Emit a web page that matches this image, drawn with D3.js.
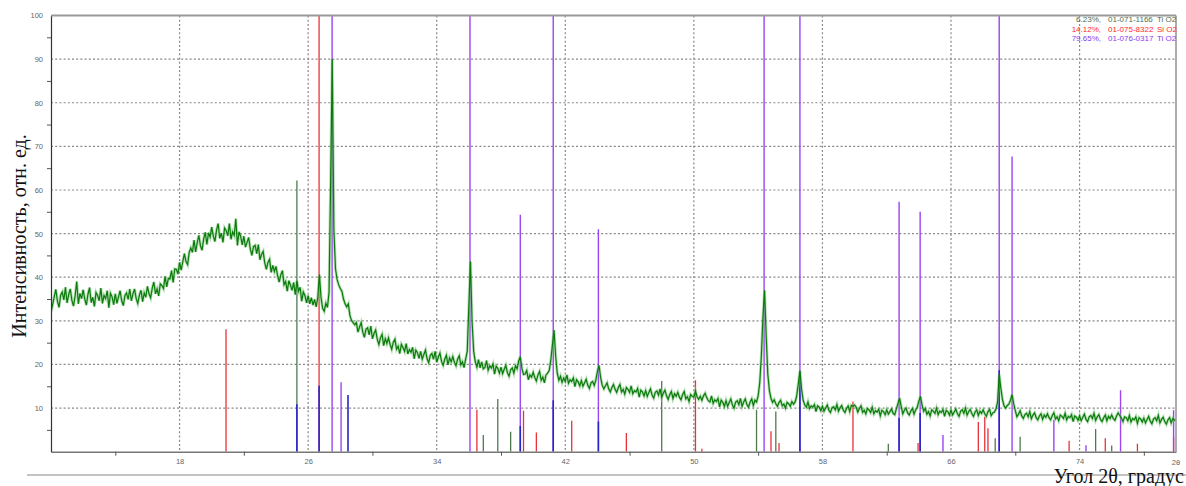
<!DOCTYPE html>
<html>
<head>
<meta charset="utf-8">
<script src="https://cdn.jsdelivr.net/npm/d3@7"></script>
<style>
  body { margin: 0; background: #fff; }
  svg { display: block; }
</style>
</head>
<body>
<div id="chart"></div>
<script>
// measured scan, 10.0 .. 80.0 deg, step 0.1
var scanStart = 10, scanStep = 0.1;
var scanCounts = [
  32.0,33.7,35.5,37.2,34.5,33.1,35.9,36.6,34.8,37.7,
  34.1,36.0,37.3,34.7,33.4,35.7,39.0,33.9,36.3,35.1,
  37.1,35.0,33.6,36.1,37.6,34.2,35.4,33.3,36.5,35.8,
  34.6,37.5,34.0,35.8,35.1,36.9,33.0,36.3,35.5,33.7,
  36.2,34.0,35.5,36.9,34.6,33.5,35.8,36.4,34.9,37.3,
  34.6,36.2,37.3,35.1,34.0,35.9,37.0,34.4,36.4,35.4,
  37.9,36.2,35.3,37.5,38.9,36.2,37.3,35.7,38.5,38.1,
  37.4,40.2,37.8,39.7,39.6,41.5,38.8,41.9,41.8,40.7,
  43.4,41.6,43.6,45.4,43.6,42.9,45.7,46.7,45.7,48.5,
  45.8,48.0,49.6,47.2,46.2,48.8,50.3,47.5,50.2,49.2,
  51.5,49.4,48.2,50.8,52.3,48.9,50.1,48.0,51.3,50.7,
  49.5,52.3,48.7,50.4,49.6,53.4,47.3,50.4,49.4,47.4,
  49.4,46.9,48.0,49.1,46.5,45.0,47.0,47.3,45.4,47.5,
  44.0,45.2,45.9,43.3,41.8,43.4,44.1,41.1,42.7,41.3,
  42.5,40.3,38.9,40.6,41.5,38.3,39.0,36.8,39.2,38.2,
  37.0,38.8,36.0,39.2,36.8,37.7,34.5,36.6,35.8,34.1,
  35.8,33.9,35.3,33.6,34.9,33.2,35.4,40.6,35.4,32.9,
  32.2,34.0,33.1,36.5,62.0,90.0,51.0,42.0,39.5,38.3,
  37.4,36.8,35.0,33.9,33.2,33.9,31.2,30.1,29.6,29.1,
  29.6,27.4,28.6,29.6,27.4,26.2,28.1,28.4,26.8,28.8,
  25.9,27.1,27.9,25.8,24.6,26.1,26.9,24.3,25.9,24.8,
  26.1,24.6,23.5,25.1,25.8,23.5,24.2,22.5,24.6,23.9,
  23.0,24.8,22.4,23.4,22.8,23.9,21.3,23.3,22.7,21.4,
  23.0,21.2,22.3,23.3,21.3,20.4,22.1,22.5,21.2,23.0,
  20.5,21.7,22.6,20.7,19.8,21.2,22.1,19.9,21.5,20.6,
  21.8,20.5,19.7,21.2,22.0,19.9,20.6,19.3,21.2,23.0,
  33.5,43.6,29.8,23.0,20.6,19.4,21.1,19.2,20.6,19.0,
  19.3,20.9,18.7,19.7,19.2,20.1,17.8,19.6,19.1,18.0,
  19.4,17.9,18.9,19.8,18.1,17.3,18.8,19.2,18.0,19.7,
  19.0,20.8,21.8,19.1,17.7,17.8,18.6,16.5,17.6,17.1,
  18.2,17.0,16.2,17.6,18.4,16.4,17.1,15.8,17.6,18.0,
  18.6,21.0,24.5,27.9,22.0,18.0,16.4,17.3,15.9,16.9,
  16.1,17.6,15.7,16.5,16.1,16.9,14.9,16.5,16.0,15.1,
  16.3,15.0,15.8,16.6,15.2,14.5,15.8,16.1,15.2,16.4,
  18.4,19.8,17.0,15.2,14.4,15.1,15.8,14.4,13.7,14.7,
  15.4,14.3,13.6,14.7,15.4,13.7,14.3,13.2,14.7,14.3,
  13.6,15.1,13.3,14.0,13.7,14.5,12.5,14.1,13.7,12.8,
  14.0,12.7,13.6,14.4,13.0,12.3,13.6,13.9,13.0,14.4,
  12.5,13.4,14.1,12.8,12.0,13.1,13.8,12.2,13.3,12.7,
  13.6,12.5,11.9,13.1,13.8,12.1,12.6,11.5,13.1,12.7,
  12.5,13.9,12.6,12.0,12.7,11.8,12.8,13.4,12.4,11.7,
  11.4,12.8,11.1,11.9,11.5,12.2,10.3,11.8,11.3,10.4,
  11.7,10.4,11.3,12.1,10.7,10.0,11.4,11.7,10.8,12.2,
  10.4,11.4,12.1,10.8,10.2,11.4,12.1,10.6,11.8,11.4,
  12.8,15.8,22.0,31.0,37.0,26.5,17.8,14.0,12.2,11.3,
  11.9,11.0,10.4,11.3,11.8,10.5,10.9,10.0,11.3,11.0,
  10.4,11.5,10.9,11.4,12.8,15.6,18.6,14.4,11.8,10.7,
  10.2,11.4,9.9,10.5,10.2,10.8,9.2,10.5,10.2,9.4,
  10.4,9.3,10.0,10.7,9.5,9.0,10.1,10.3,9.6,10.8,
  9.3,10.1,10.6,9.5,9.0,9.9,10.5,9.2,10.6,10.4,
  10.7,10.2,9.1,9.9,10.5,9.0,9.5,8.7,9.9,9.6,
  9.0,10.2,8.7,9.4,9.1,9.7,8.2,9.5,9.2,8.5,
  9.6,8.6,9.2,9.8,8.8,8.5,9.8,11.0,12.3,10.4,
  8.7,9.5,10.0,8.9,8.4,9.3,9.9,8.6,9.6,10.2,
  11.6,12.7,10.7,9.3,9.9,8.6,9.2,8.2,9.6,9.3,
  8.8,10.0,8.5,9.3,9.0,9.7,8.1,9.5,9.2,8.4,
  9.5,8.4,9.1,9.8,8.7,8.1,9.3,9.6,8.8,10.0,
  8.4,9.2,9.7,8.7,8.1,9.1,9.6,8.3,9.3,8.8,
  9.6,8.7,8.1,9.2,9.7,8.3,8.9,9.1,9.8,11.4,
  17.8,14.6,12.0,10.5,10.0,10.6,10.9,11.8,13.1,11.0,
  9.4,8.0,8.6,9.4,8.2,7.6,8.5,8.8,8.0,9.2,
  7.6,8.4,8.9,7.8,7.3,8.2,8.7,7.4,8.4,7.9,
  8.7,7.8,7.3,8.3,8.9,7.5,8.0,7.1,8.4,8.1,
  7.6,8.8,7.3,8.1,7.8,8.5,6.9,8.2,7.9,7.2,
  8.2,7.1,7.9,8.6,7.4,6.9,8.0,8.3,7.6,8.8,
  7.2,8.0,8.5,7.4,6.9,7.8,8.4,7.1,8.1,7.6,
  8.4,7.6,7.2,8.2,8.9,8.3,7.7,6.9,8.0,7.8,
  7.1,8.3,6.8,7.6,7.3,8.0,6.5,7.8,7.5,6.8,
  7.7,6.6,7.4,8.1,7.0,6.4,7.5,7.8,7.1,8.3,
  6.6,7.4,7.9,6.9,6.3,7.3,7.8,6.6,7.6,7.2,
  7.4
];

// reference patterns (stick positions, relative intensity)
var greenAngles = [25.3, 36.9, 37.8, 38.6, 48.0, 53.9, 55.1, 62.1, 68.75, 70.3, 75.0, 76.0];
var greenInts   = [62.2, 3.8, 12.1, 4.6, 16.2, 9.6, 9.2, 1.8, 3.1, 3.4, 5.2, 1.4];

var redAngles = [20.89, 26.68, 36.5, 39.4, 40.2, 42.4, 45.8, 50.1, 50.5, 54.8, 55.3, 59.9, 63.95, 67.7, 68.1, 68.3, 73.35, 75.6, 77.6, 79.85];
var redInts   = [28.1, 100, 9.6, 9.4, 4.4, 7.1, 4.3, 16.4, 0.7, 4.7, 2.0, 11.5, 2.0, 6.8, 8.0, 5.4, 2.5, 3.1, 1.8, 3.4];

var violetAngles = [27.49, 28.05, 36.07, 39.2, 41.25, 44.06, 54.37, 56.6, 62.77, 64.08, 65.5, 69.0, 69.8, 72.4, 74.4, 76.55, 79.85];
var violetInts   = [100, 15.9, 100, 54.3, 100, 51.0, 100, 100, 57.3, 55.0, 3.8, 100, 67.7, 7.3, 1.5, 14.1, 9.5];

var blueAngles = [25.3, 26.68, 28.48, 39.2, 41.25, 44.06, 56.6, 62.77, 64.08, 69.0];
var blueInts   = [10.9, 15.1, 13.0, 5.9, 11.8, 6.9, 18.3, 7.7, 8.9, 18.7];

var legendPct   = ['6.23%,', '14.12%,', '79.65%,'];
var legendCode  = ['01-071-1166', '01-075-8322', '01-076-0317'];
var legendPhase = ['Ti O2', 'Si O2', 'Ti O2'];

var xLabelTicks = [18, 26, 34, 42, 50, 58, 66, 74];
var xMinorTicks = [14, 22, 30, 38, 46, 54, 62, 70, 78];
var yLabelTicks = [10, 20, 30, 40, 50, 60, 70, 80, 90, 100];
var yMinorTicks = [5, 15, 25, 35, 45, 55, 65, 75, 85, 95];

var width = 1186, height = 486;
var margin = {top: 15.5, right: 10, bottom: 34.3, left: 51};

var svg = d3.select('#chart')
    .append('svg')
    .attr('width', width)
    .attr('height', height);

var x = d3.scaleLinear()
    .domain([10, 80])
    .range([margin.left, width - margin.right]);

var y = d3.scaleLinear()
    .domain([0, 100])
    .range([height - margin.bottom, margin.top]);

svg.append('defs').append('clipPath')
    .attr('id', 'plot-clip')
    .append('rect')
    .attr('x', x(10))
    .attr('y', y(100))
    .attr('width', x(80) - x(10))
    .attr('height', y(0) - y(100));

//grid
svg.append('g')
    .selectAll('line')
    .data(yLabelTicks.slice(0, -1))
    .join('line')
    .attr('x1', x(10))
    .attr('x2', x(80))
    .attr('y1', d => y(d))
    .attr('y2', d => y(d))
    .attr('stroke', '#888')
    .attr('stroke-width', 1.2)
    .attr('stroke-dasharray', '2,2.2');

svg.append('g')
    .selectAll('line')
    .data(xLabelTicks)
    .join('line')
    .attr('x1', d => x(d))
    .attr('x2', d => x(d))
    .attr('y1', y(100))
    .attr('y2', y(0))
    .attr('stroke', '#888')
    .attr('stroke-width', 1.2)
    .attr('stroke-dasharray', '2,2.2');

//sticks
function drawSticks(angles, ints, color, w) {
    svg.append('g')
        .attr('clip-path', 'url(#plot-clip)')
        .selectAll('line')
        .data(angles.map((a, i) => ({angle: a, val: ints[i]})))
        .join('line')
        .attr('x1', d => x(d.angle))
        .attr('x2', d => x(d.angle))
        .attr('y1', y(0))
        .attr('y2', d => y(d.val))
        .attr('stroke', color)
        .attr('stroke-width', w);
}

drawSticks(greenAngles, greenInts, '#4f7a4f', 1.3);
drawSticks(redAngles, redInts, '#e8323a', 1.3);
drawSticks(violetAngles, violetInts, '#9b45f2', 1.4);
drawSticks(blueAngles, blueInts, '#2626c8', 1.6);

//measured pattern
var scan = scanCounts.map((c, i) => ({angle: scanStart + i * scanStep, val: c}));

var line = d3.line()
    .x(d => x(d.angle))
    .y(d => y(d.val));

svg.append('path')
    .datum(scan)
    .attr('clip-path', 'url(#plot-clip)')
    .attr('fill', 'none')
    .attr('stroke', '#6fbf6f')
    .attr('stroke-width', 3)
    .attr('stroke-opacity', 0.5)
    .attr('d', line);

svg.append('path')
    .datum(scan)
    .attr('clip-path', 'url(#plot-clip)')
    .attr('fill', 'none')
    .attr('stroke', '#0a7a0a')
    .attr('stroke-width', 1.2)
    .attr('d', line);

//axes
var axisFont = 'Liberation Sans, Arial, sans-serif';

var xAxis = svg.append('g')
    .attr('transform', `translate(0,${y(0)})`)
    .call(d3.axisBottom(x).tickValues(xLabelTicks).tickSize(0).tickPadding(7));

svg.append('g')
    .attr('transform', `translate(0,${y(0)})`)
    .call(d3.axisBottom(x).tickValues(xMinorTicks).tickSize(4).tickFormat(''))
    .call(g => g.select('.domain').remove());

xAxis.select('.domain').attr('stroke', '#777').attr('stroke-width', 1.6);

svg.append('text')
    .attr('x', x(80))
    .attr('y', y(0) + 13)
    .attr('text-anchor', 'middle')
    .text('2θ');

var yAxis = svg.append('g')
    .attr('transform', `translate(${x(10)},0)`)
    .call(d3.axisLeft(y).tickValues(yLabelTicks).tickSize(0).tickPadding(8));

svg.append('g')
    .attr('transform', `translate(${x(10)},0)`)
    .call(d3.axisLeft(y).tickValues(yMinorTicks).tickSize(4).tickFormat(''))
    .call(g => g.select('.domain').remove());

yAxis.select('.domain').attr('stroke', '#333').attr('stroke-width', 1.2);

svg.selectAll('.tick line').attr('stroke', '#555');
svg.selectAll('.tick text, text')
    .attr('fill', '#666')
    .style('font-family', axisFont)
    .style('font-size', '7.5px');

//frame
svg.append('line')
    .attr('x1', x(10)).attr('x2', x(80))
    .attr('y1', y(100)).attr('y2', y(100))
    .attr('stroke', '#999').attr('stroke-width', 2.2);

svg.append('line')
    .attr('x1', x(80)).attr('x2', x(80))
    .attr('y1', y(100)).attr('y2', y(0))
    .attr('stroke', '#999').attr('stroke-width', 1.6);

//legend
var legendColors = ['#4f6f4f', '#ff2a2a', '#8a3cf0'];
var legend = svg.append('g')
    .style('font-family', axisFont)
    .style('font-size', '8px');

legendPct.forEach(function(p, i) {
    var ly = 22 + i * 9.5;
    legend.append('text').attr('x', 1101).attr('y', ly).attr('text-anchor', 'end')
        .attr('fill', legendColors[i]).text(p);
    legend.append('text').attr('x', 1108).attr('y', ly)
        .attr('fill', legendColors[i]).text(legendCode[i]);
    legend.append('text').attr('x', 1157).attr('y', ly)
        .attr('fill', legendColors[i]).text(legendPhase[i]);
});

//axis titles
svg.append('line')
    .attr('x1', 27).attr('x2', width)
    .attr('y1', 475).attr('y2', 475)
    .attr('stroke', '#888').attr('stroke-width', 1);

svg.append('text')
    .attr('x', 1184)
    .attr('y', 483)
    .attr('text-anchor', 'end')
    .style('font-family', 'Liberation Serif, Times New Roman, serif')
    .style('font-size', '20px')
    .attr('fill', '#111')
    .text('Угол 2θ, градус');

svg.append('text')
    .attr('transform', 'translate(26,236) rotate(-90)')
    .attr('text-anchor', 'middle')
    .style('font-family', 'Liberation Serif, Times New Roman, serif')
    .style('font-size', '20px')
    .attr('fill', '#111')
    .text('Интенсивность, отн. ед.');
</script>
</body>
</html>
